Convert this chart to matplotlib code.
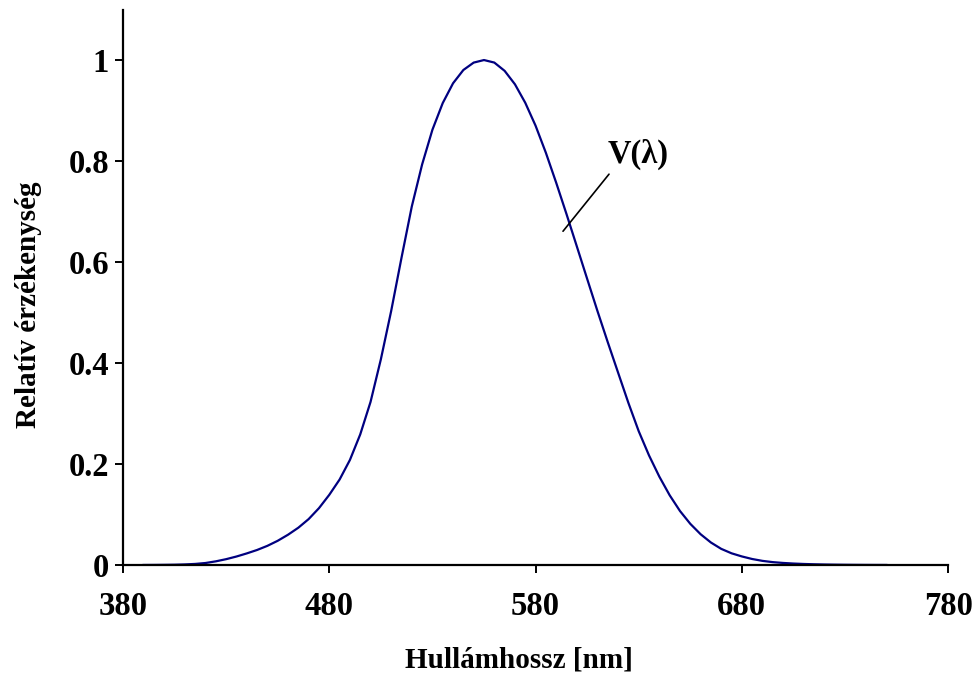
import matplotlib.pyplot as plt
import numpy as np

# CIE fotopikus láthatósági függvény, 5 nm-es lépésekben
wavelengths = list(range(390, 755, 5))
v_lambda = [0.000120, 0.000217, 0.000396, 0.000640, 0.00121, 0.00218, 0.00400, 0.00730,
            0.0116, 0.01684, 0.0230, 0.0298, 0.0380, 0.0480, 0.0600, 0.0739, 0.09098,
            0.1126, 0.13902, 0.1693, 0.20802, 0.2586, 0.323, 0.4073, 0.503, 0.6082,
            0.710, 0.7932, 0.862, 0.91485, 0.954, 0.9803, 0.99495, 1.0000, 0.995,
            0.9786, 0.952, 0.9154, 0.870, 0.8163, 0.757, 0.6949, 0.631, 0.5668, 0.503,
            0.4412, 0.381, 0.321, 0.265, 0.217, 0.175, 0.1382, 0.107, 0.0816, 0.061,
            0.04458, 0.032, 0.0232, 0.017, 0.01192, 0.00821, 0.005723, 0.004102,
            0.002929, 0.002091, 0.001484, 0.001047, 0.00074, 0.00052, 0.000361,
            0.000249, 0.000172, 0.00012]

x_ticks = [380, 480, 580, 680, 780]
y_ticks = [0, 0.2, 0.4, 0.6, 0.8, 1]
y_tick_labels = ['0', '0.2', '0.4', '0.6', '0.8', '1']

plt.rcParams['font.family'] = ['Liberation Serif', 'DejaVu Serif']
plt.rcParams['font.weight'] = 'bold'

fig = plt.figure(figsize=(9.8, 6.77), dpi=100)
ax = fig.add_axes([0.1255, 0.1654, 0.842, 0.8205])

ax.plot(wavelengths, v_lambda, color='#000080', linewidth=1.6)

ax.set_xlim(380, 780)
ax.set_ylim(0, 1.1)
ax.set_xticks(x_ticks)
ax.set_yticks(y_ticks)
ax.set_yticklabels(y_tick_labels)

for side in ['top', 'right']:
    ax.spines[side].set_visible(False)
for side in ['left', 'bottom']:
    ax.spines[side].set_linewidth(1.6)

ax.tick_params(axis='x', direction='out', length=6, width=1.4, pad=13, labelsize=23.5)
ax.tick_params(axis='y', direction='out', length=6, width=1.4, pad=4, labelsize=23.5)

ax.set_xlabel('Hullámhossz [nm]', fontsize=21, fontweight='bold')
ax.set_ylabel('Relatív érzékenység', fontsize=21, fontweight='bold')
ax.xaxis.set_label_coords(0.48, -0.171)
ax.yaxis.set_label_coords(-0.114, 0.468)
ax.xaxis.label.set_va('center')
ax.yaxis.label.set_va('center')

# felirat és mutatóvonal
ax.annotate('', xy=(593.3, 0.661), xytext=(615.6, 0.774),
            arrowprops=dict(arrowstyle='-', color='black', linewidth=1.2,
                            shrinkA=0, shrinkB=0))
ax.text(615, 0.782, 'V(λ)', fontsize=23.5, fontweight='bold', ha='left', va='bottom')

fig.savefig('out.png', dpi=100)
